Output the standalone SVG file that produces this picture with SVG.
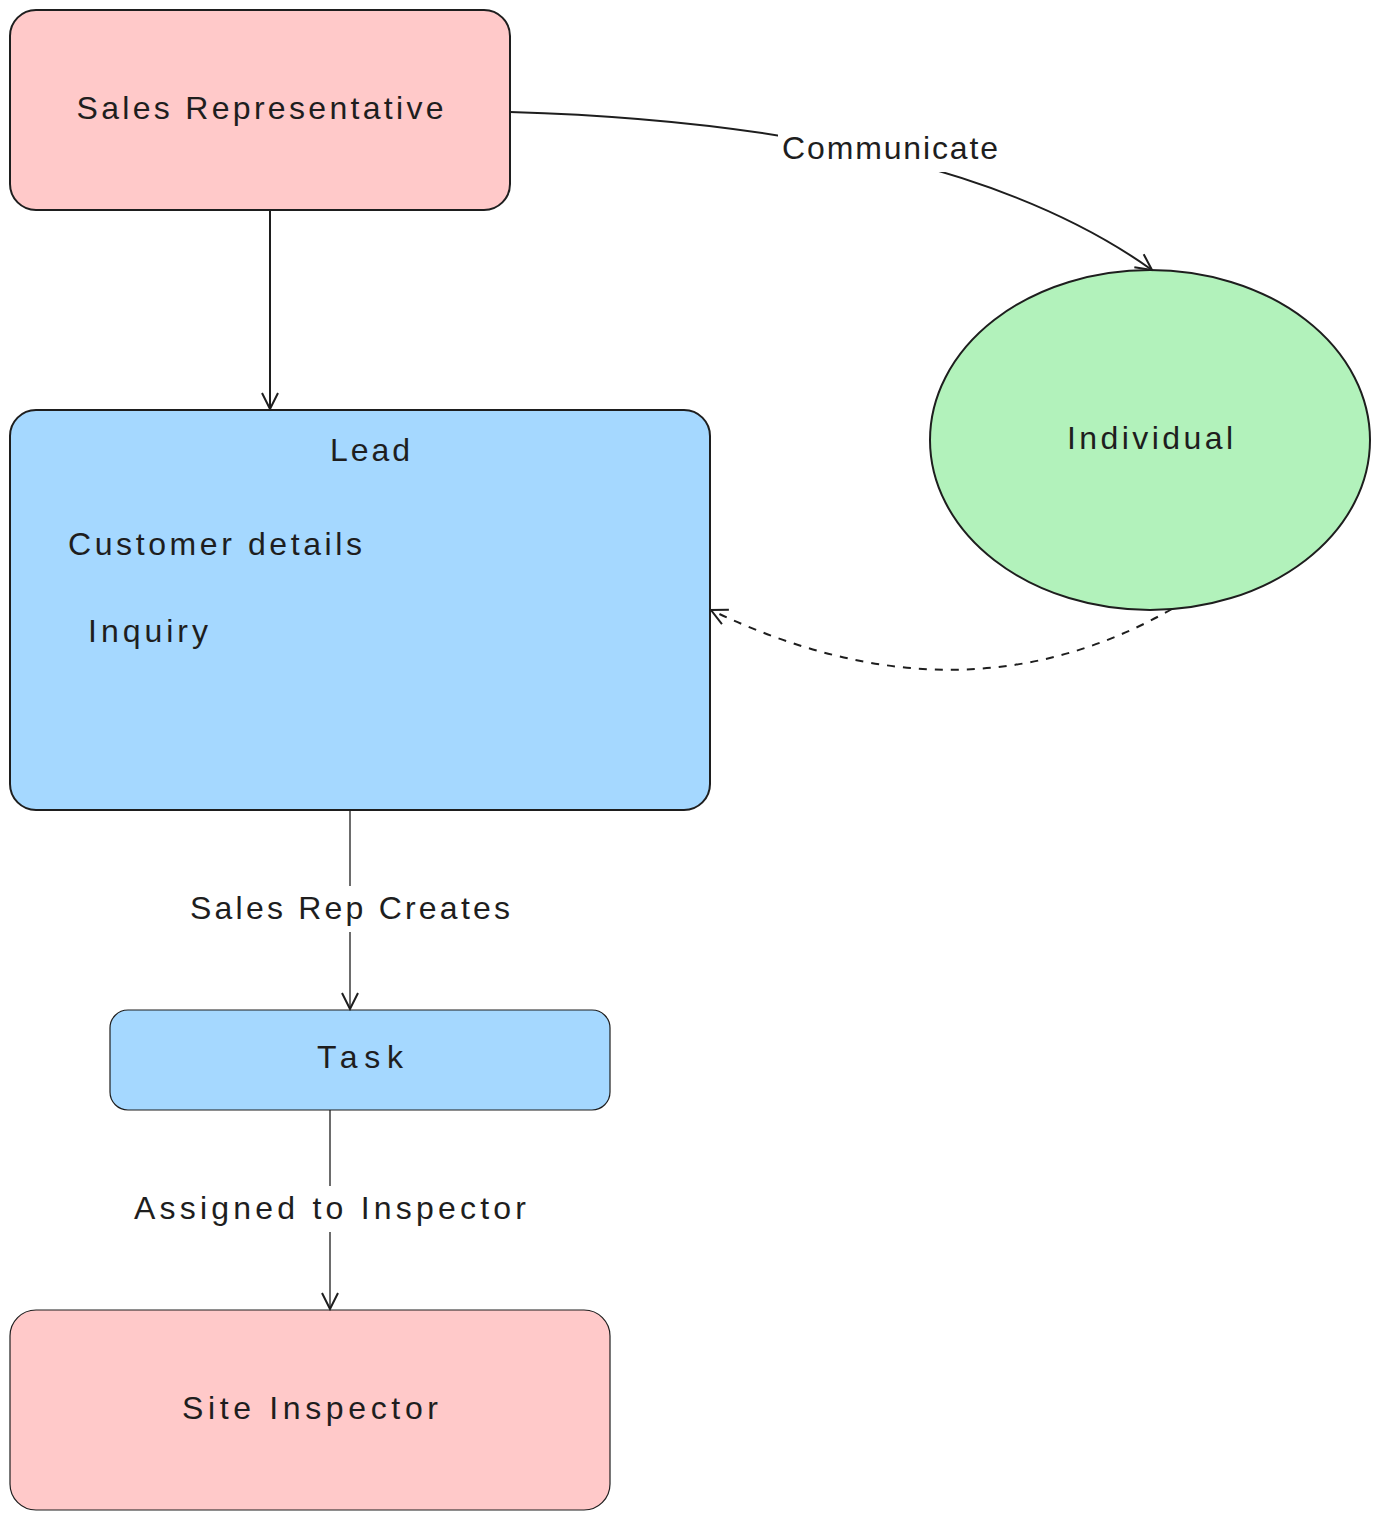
<svg xmlns="http://www.w3.org/2000/svg" width="1380" height="1520" viewBox="0 0 1380 1520">
<style>
.node{stroke:#1e1e1e;stroke-width:2}
.thin{stroke-width:1.2}
.t{font-family:"Liberation Sans",Arial,sans-serif;font-size:32px;fill:#1e1e1e;dominant-baseline:central}
.c{text-anchor:middle}
.edge{fill:none;stroke:#1e1e1e;stroke-width:2}
.e1{stroke-width:1.3}
.lbg{fill:#ffffff}
</style>
<defs>
<marker id="ah" viewBox="0 0 20 20" refX="18" refY="10" markerWidth="20" markerHeight="20" markerUnits="userSpaceOnUse" orient="auto">
<path d="M2,2 L18,10 L2,18" fill="none" stroke="#1e1e1e" stroke-width="2"/>
</marker>
</defs>
<rect width="1380" height="1520" fill="#ffffff"/>
<g id="sales-rep">
<rect class="node" x="10" y="10" width="500" height="200" rx="26" fill="#ffc9c9"/>
<text class="t c" x="260" y="108" textLength="367" lengthAdjust="spacing">Sales Representative</text>
</g>
<g id="lead">
<rect class="node" x="10" y="410" width="700" height="400" rx="26" fill="#a5d8ff"/>
<text class="t c" x="370" y="450" textLength="80" lengthAdjust="spacing">Lead</text>
<text class="t" x="68" y="544" textLength="294" lengthAdjust="spacing">Customer details</text>
<text class="t" x="88" y="631" textLength="120" lengthAdjust="spacing">Inquiry</text>
</g>
<g id="individual">
<ellipse class="node" cx="1150" cy="440" rx="220" ry="170" fill="#b2f2bb"/>
<text class="t c" x="1150" y="438" textLength="166" lengthAdjust="spacing">Individual</text>
</g>
<g id="task">
<rect class="node thin" x="110" y="1010" width="500" height="100" rx="18" fill="#a5d8ff"/>
<text class="t c" x="360" y="1057" textLength="86" lengthAdjust="spacing">Task</text>
</g>
<g id="site-inspector">
<rect class="node thin" x="10" y="1310" width="600" height="200" rx="26" fill="#ffc9c9"/>
<text class="t c" x="310" y="1408" textLength="256" lengthAdjust="spacing">Site Inspector</text>
</g>
<g id="connectors">
<line class="edge" x1="270" y1="210" x2="270" y2="409" marker-end="url(#ah)"/>
<path class="edge" d="M510,112 Q950,125 1152,270" marker-end="url(#ah)"/>
<rect class="lbg" x="778" y="126" width="224" height="46"/>
<text class="t c" x="890" y="148" textLength="216" lengthAdjust="spacing">Communicate</text>
<path class="edge" d="M1172,609 Q960,730 711,610" stroke-dasharray="8,8" marker-end="url(#ah)"/>
<line class="edge e1" x1="350" y1="810" x2="350" y2="1009" marker-end="url(#ah)"/>
<rect class="lbg" x="186" y="886" width="328" height="46"/>
<text class="t c" x="350" y="908" textLength="320" lengthAdjust="spacing">Sales Rep Creates</text>
<line class="edge e1" x1="330" y1="1110" x2="330" y2="1309" marker-end="url(#ah)"/>
<rect class="lbg" x="130" y="1186" width="400" height="46"/>
<text class="t c" x="330" y="1208" textLength="392" lengthAdjust="spacing">Assigned to Inspector</text>
</g>
</svg>
